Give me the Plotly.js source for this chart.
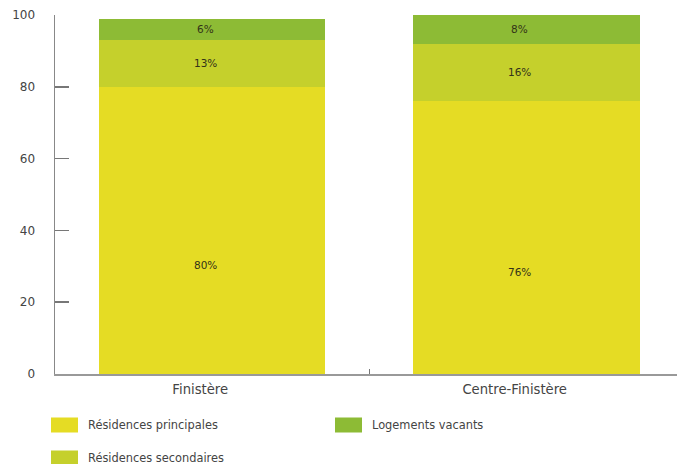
<!DOCTYPE html>
<html>
<head>
<meta charset="utf-8">
<script src="https://cdn.plot.ly/plotly-3.0.1.min.js"></script>
<style>html,body{margin:0;padding:0;background:#fff;}#chart{width:677px;height:464px;}</style>
</head>
<body>
<div id="chart"></div>
<script>
const categories = ["Finistère", "Centre-Finistère"];
const seriesNames = ["Résidences principales", "Résidences secondaires", "Logements vacants"];
const principales = [80, 76];
const secondaires = [13, 16];
const vacants = [6, 8];
const yTicks = [0, 20, 40, 60, 80, 100];

const colors = ["#e5dc24", "#c5d02c", "#8dbb35"];
const values = [principales, secondaires, vacants];
const legendIds = ["legend", "legend3", "legend2"];

const font = "DejaVu Sans, Verdana, sans-serif";
const labelFont = {family: font, size: 10.5, color: "#333318"};
const traces = values.map((v, i) => ({
  type: "bar",
  name: seriesNames[i],
  x: categories,
  y: v,
  marker: {color: colors[i], line: {width: 0}},
  hoverinfo: "none",
  legend: legendIds[i]
}));

// segment labels, placed from the stacked data (bottom segment label sits below its centre, as in the reference)
const annotations = [];
categories.forEach((c, j) => {
  let base = 0;
  values.forEach((v, i) => {
    const mid = i === 0 ? v[j] / 2 - 9.5 : base + v[j] / 2;
    annotations.push({
      x: c, y: mid, xref: "x", yref: "y", xshift: -7,
      text: v[j] + "%", showarrow: false, font: labelFont
    });
    base += v[j];
  });
});

function leg(xpx, ypx) {
  return {
    xref: "container", yref: "container",
    x: xpx / 677, y: 1 - ypx / 464,
    xanchor: "left", yanchor: "middle",
    orientation: "h",
    font: {family: font, size: 11.4, color: "#444"},
    bgcolor: "rgba(0,0,0,0)", borderwidth: 0
  };
}

const layout = {
  width: 677, height: 464,
  margin: {l: 55, r: 0, t: 15, b: 90},
  paper_bgcolor: "#fff", plot_bgcolor: "#fff",
  barmode: "stack",
  bargap: 0.28,
  font: {family: font, size: 11, color: "#444"},
  annotations: annotations,
  xaxis: {
    type: "category",
    range: [-0.5, 1.478],
    showline: true, linecolor: "#999", linewidth: 1.5,
    ticks: "inside", tickson: "boundaries", ticklen: 5, tickcolor: "#777", tickwidth: 1,
    ticklabelshift: -12, ticklabelstandoff: 3,
    showgrid: false, zeroline: false,
    tickfont: {family: font, size: 13.2, color: "#444"}
  },
  yaxis: {
    range: [0, 100],
    tickvals: yTicks,
    ticktext: yTicks.map(String),
    showline: true, linecolor: "#888", linewidth: 1.5,
    ticks: "inside", ticklen: 14, tickcolor: "#777", tickwidth: 1.5,
    ticklabelstandoff: 16,
    showgrid: false, zeroline: false,
    tickfont: {family: font, size: 12, color: "#444"}
  },
  showlegend: true,
  legend: leg(48, 425),
  legend2: leg(332, 425),
  legend3: leg(48, 458)
};

function bigSwatches() {
  document.querySelectorAll(".legendpoints path").forEach(p => {
    p.setAttribute("d", "M-17,7.5H10V-7.5H-17Z");
  });
}
Plotly.newPlot("chart", traces, layout, {displayModeBar: false, staticPlot: true}).then(() => {
  bigSwatches();
  setTimeout(bigSwatches, 50);
});
</script>
</body>
</html>
